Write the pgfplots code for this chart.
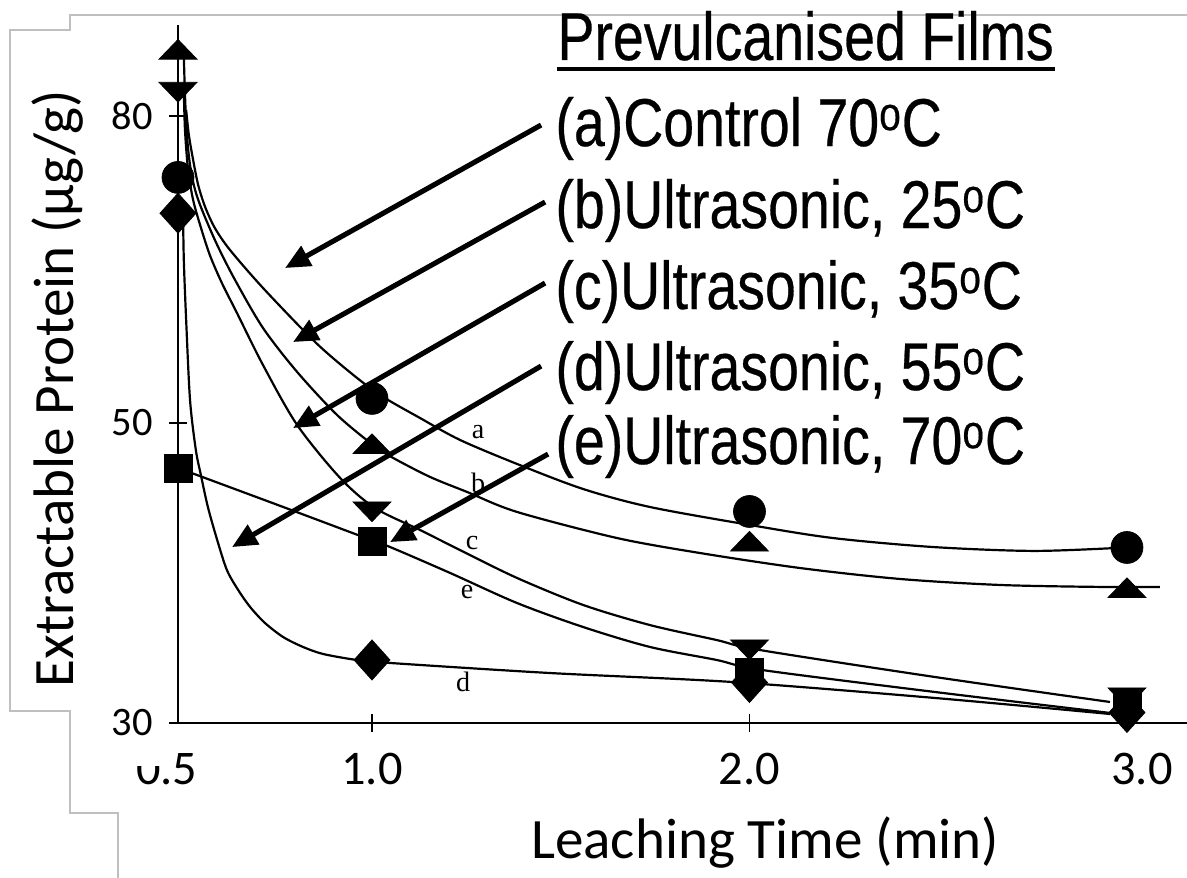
\documentclass[border=0pt]{standalone}
\usepackage{pgfplots}
\pgfplotsset{compat=1.18}
\usetikzlibrary{arrows.meta}
\usepackage{fontspec}
\setmainfont{Carlito}
\newfontfamily\legfont{Liberation Sans}[FakeStretch=0.82, FakeBold=0.4]
\newfontfamily\lblfont{Liberation Serif}

% one picture unit = one pixel of the 1187x878 reference = 0.02cm
\begin{document}
\begin{tikzpicture}
\path[use as bounding box] (0,0) rectangle (23.74cm,17.56cm);
\begin{axis}[
  at={(3.56cm,3.10cm)}, anchor=south west,
  scale only axis, width=20.18cm, height=13.96cm,
  clip=false,
  x coord trafo/.code={\pgfmathparse{ifthenelse(#1<=1,(#1-0.5)*388,194+(#1-1)*377.5)}},
  x coord inv trafo/.code={\pgfmathparse{ifthenelse(#1<=194,0.5+#1/388,1+(#1-194)/377.5)}},
  y coord trafo/.code={\pgfmathparse{ifthenelse(#1<=50,(#1-30)*15,300+(#1-50)*10.23)}},
  y coord inv trafo/.code={\pgfmathparse{ifthenelse(#1<=300,30+#1/15,50+(#1-300)/10.23)}},
  xmin=0.5, xmax=3.159, ymin=30, ymax=88.9,
  axis x line*=bottom, axis y line*=left,
  axis line style={line width=1.5pt},
  tick align=center,
  major tick length=0.36cm,
  tick style={line width=1pt, black},
  xtick={1,2}, xticklabels={1.0,2.0},
  extra x ticks={0.5,3}, extra x tick labels={0.5\kern0.45cm, \kern0.6cm3.0},
  extra x tick style={tick style={draw=none}},
  ytick={30,50,80}, yticklabels={30,50,80},
  xticklabel style={font=\fontsize{27.5}{30}\selectfont, anchor=north, yshift=-0.3cm},
  yticklabel style={font=\fontsize{23}{26}\selectfont, anchor=east, xshift=-0.2cm},
  /pgf/number format/assume math mode=true,
  every axis plot/.append style={black},
]
% fitted curves
\addplot[line width=1.25pt, smooth, tension=0.5] coordinates {
 (0.521,80.60) (0.528,78.15) (0.539,75.71) (0.552,73.26) (0.570,71.11) (0.595,69.06)
 (0.634,66.91) (0.719,63.20) (0.848,58.11) (0.936,55.18) (1.021,52.74) (1.127,50.49)
 (1.233,48.87) (1.384,47.27) (1.559,45.60) (1.736,44.40) (2.001,43.20) (2.221,42.33)
 (2.486,41.73) (2.751,41.47) (2.974,41.67)};
\addplot[line width=1.25pt, smooth, tension=0.5] coordinates {
 (0.515,85.97) (0.518,82.06) (0.523,78.15) (0.531,75.22) (0.544,72.78) (0.564,70.63)
 (0.601,67.40) (0.647,63.98) (0.719,59.29) (0.807,54.99) (0.910,50.78) (1.003,48.53)
 (1.056,47.67) (1.154,46.40) (1.252,45.40) (1.384,44.07) (1.649,42.33) (1.869,41.33)
 (2.134,40.33) (2.399,39.60) (2.664,39.20) (2.929,39.07) (3.087,39.07)};
\addplot[line width=1.25pt, smooth, tension=0.5] coordinates {
 (0.515,82.55) (0.518,78.64) (0.526,74.73) (0.539,71.80) (0.557,69.35) (0.582,66.42)
 (0.613,63.69) (0.652,60.75) (0.719,55.67) (0.807,49.87) (0.918,46.33) (1.008,44.33)
 (1.127,42.87) (1.233,41.53) (1.384,39.67) (1.559,37.87) (1.736,36.53) (1.913,35.53)
 (2.026,34.87) (2.490,33.07) (2.955,31.40)};
\addplot[line width=1.25pt, smooth, tension=0.5] coordinates {
 (0.513,70.53) (0.515,65.93) (0.521,60.07) (0.531,52.25) (0.546,48.2) (0.559,46.53)
 (0.577,44.4) (0.601,42.2) (0.626,40.2) (0.655,38.87) (0.686,37.73) (0.724,36.67)
 (0.771,35.73) (0.822,35.07) (0.874,34.6) (0.961,34.2) (1.048,34.0) (1.472,33.33)
 (1.956,32.73) (2.490,31.67) (2.955,30.6)};
\addplot[line width=1.25pt, smooth, tension=0.5] coordinates {
 (0.5,47.0) (0.771,44.4) (0.977,42.4) (1.048,41.73) (1.207,40.0) (1.384,38.0)
 (1.559,36.4) (1.736,35.07) (1.913,34.2) (2.034,33.53) (2.490,32.07) (2.955,30.67)};
% measured points
\addplot[only marks, mark=*, mark size=9.1pt] coordinates {
 (0.5,74.0) (1,52.4) (2,44.1) (3,41.7)};
\addplot[only marks, mark=triangle*, mark size=12.5pt, mark options={yscale=0.6}] coordinates {
 (0.5,86.2) (1,48.4) (2,41.9) (3,38.8)};
\addplot[only marks, mark=triangle*, mark size=12.5pt, mark options={yscale=-0.6}] coordinates {
 (0.5,82.65) (1,44.3) (2,35.1) (3,31.9)};
\addplot[only marks, mark=diamond*, mark size=11.4pt, mark options={xscale=1.2}] coordinates {
 (0.5,70.5) (1,34.2) (2,32.7) (3,30.7)};
\addplot[only marks, mark=square*, mark size=8pt] coordinates {
 (0.5,47.0) (1,42.1) (2,33.4) (3,31.4)};
\end{axis}

\begin{scope}[x=0.02cm, y=-0.02cm, shift={(0,17.56cm)}]
% edges of the scanned crop
\draw[black!25, line width=0.8pt] (1187,15) -- (70,15) -- (70,30) -- (10,30) -- (10,711)
  -- (70,711) -- (70,813) -- (118,813) -- (118,878);
% top of the first tick label is cut off in the scan
\fill[white] (133,748) rectangle (160,766);
\node[rotate=90, anchor=base, inner sep=0pt, font=\fontsize{32.5}{36}\selectfont]
  at (73,389) {Extractable Protein (μg/g)};
\node[anchor=base, inner sep=0pt, font=\fontsize{32.5}{36}\selectfont]
  at (765,858) {Leaching Time (min)};
\begin{scope}[every node/.style={anchor=base west, inner sep=0pt,
    font=\legfont\fontsize{38.5}{44}\selectfont}]
\node at (557,60) {Prevulcanised Films};
\node at (555,146) {(a)Control 70\textsuperscript{o}C};
\node at (555,228) {(b)Ultrasonic, 25\textsuperscript{o}C};
\node at (555,309) {(c)Ultrasonic, 35\textsuperscript{o}C};
\node at (555,390) {(d)Ultrasonic, 55\textsuperscript{o}C};
\node at (555,464) {(e)Ultrasonic, 70\textsuperscript{o}C};
\end{scope}
\draw[line width=2.3pt] (557,69) -- (1055,69);
\begin{scope}[line width=2.9pt, -{Triangle[length=0.5cm, width=0.44cm]}]
\draw (541,125) -- (285,268);
\draw (545,202) -- (293,342);
\draw (545,283) -- (293,428);
\draw (541,366) -- (232,547);
\draw (548,454) -- (390,542);
\end{scope}
\begin{scope}[every node/.style={inner sep=0pt, font=\lblfont\fontsize{16}{18}\selectfont}]
\node at (478,432) {a};
\node at (478,483) {b};
\node at (472,543) {c};
\node at (467,592) {e};
\node at (463,682) {d};
\end{scope}
\end{scope}
\end{tikzpicture}
\end{document}
